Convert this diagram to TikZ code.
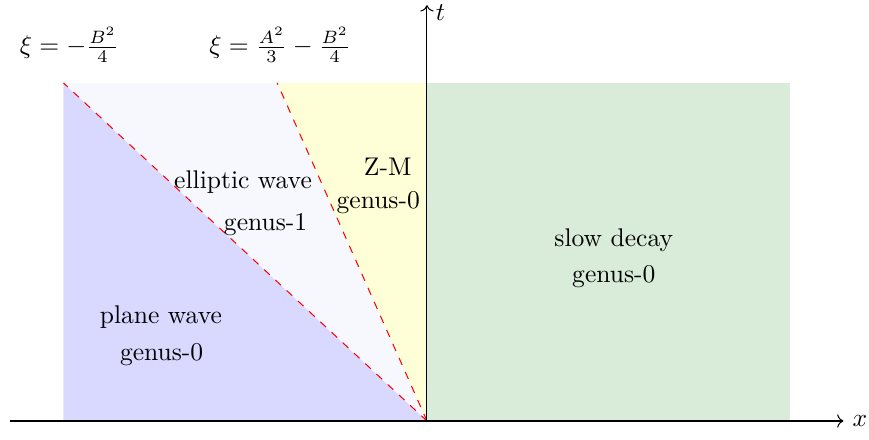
\documentclass[tikz,border=0pt]{standalone}
\usepackage{amsmath,amssymb}
\usepackage{xcolor}
\usetikzlibrary{arrows.meta,calc,positioning}
\definecolor{planeblue}{RGB}{217,217,255}
\definecolor{ellgray}{RGB}{247,248,253}
\definecolor{zmyellow}{RGB}{255,255,215}
\definecolor{slowgreen}{RGB}{217,235,217}
\begin{document}
\begin{tikzpicture}[
  lab/.style={inner sep=1pt},
  sep/.style={red,dashed,thin}]
\useasboundingbox (-5.873,-0.248) rectangle (6.08,5.791);
\coordinate (O) at (0,0);
\coordinate (TL) at (-5,4.65);
\coordinate (TM) at (-2.06,4.65);
\coordinate (TO) at (0,4.65);
\coordinate (BL) at (-5,0);
% regions
\fill[slowgreen] (0,0) rectangle (5,4.65);
\fill[planeblue] (BL) -- (TL) -- (O) -- cycle;
\fill[ellgray] (TL) -- (TM) -- (O) -- cycle;
\fill[zmyellow] (TM) -- (TO) -- (O) -- cycle;
\draw[sep] (O) -- (TL);
\draw[sep] (O) -- (TM);
% axes
\draw[->] (-5.73,0) -- (5.73,0) node[right] (xl) {$x$};
\draw[->] (0,0) -- (0,5.72) node[right,yshift=-3pt] (tl) {$t$};
% boundary curves
\node[lab] (xi1) at (-4.92,5.17) {$\xi=-\frac{B^2}{4}$};
\node[lab] (xi2) at (-2.02,5.17) {$\xi=\frac{A^2}{3}-\frac{B^2}{4}$};
% region labels
\node[lab] (pw) at (-3.66,1.43) {plane wave};
\node[lab] (pwg) at (-3.65,0.91) {genus-0};
\node[lab] (ew) at (-2.53,3.29) {elliptic wave};
\node[lab] (ewg) at (-2.22,2.70) {genus-1};
\node[lab] (zm) at (-0.54,3.49) {Z-M};
\node[lab] (zmg) at (-0.67,3.01) {genus-0};
\node[lab] (sd) at (2.57,2.48) {slow decay};
\node[lab] (sdg) at (2.57,1.99) {genus-0};
\end{tikzpicture}
\end{document}
